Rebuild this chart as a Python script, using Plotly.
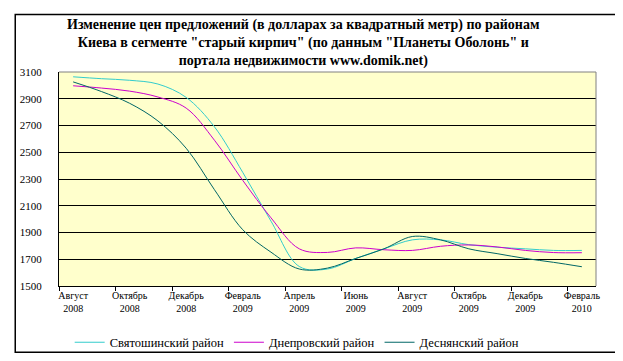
import plotly.graph_objects as go

months = ["Август<br>2008", "Сентябрь<br>2008", "Октябрь<br>2008", "Ноябрь<br>2008",
          "Декабрь<br>2008", "Январь<br>2009", "Февраль<br>2009", "Март<br>2009",
          "Апрель<br>2009", "Май<br>2009", "Июнь<br>2009", "Июль<br>2009",
          "Август<br>2009", "Сентябрь<br>2009", "Октябрь<br>2009", "Ноябрь<br>2009",
          "Декабрь<br>2009", "Январь<br>2010", "Февраль<br>2010"]

svyatoshinsky = [3064, 3050, 3038, 3010, 2910, 2690, 2350, 1985, 1646, 1627, 1706,
                 1778, 1845, 1845, 1809, 1790, 1778, 1766, 1766]
dneprovsky = [2997, 2980, 2957, 2913, 2830, 2590, 2290, 2010, 1778, 1751, 1785,
              1771, 1766, 1797, 1807, 1792, 1766, 1750, 1749]
desniansky = [3026, 2954, 2866, 2734, 2530, 2220, 1921, 1753, 1627, 1634, 1706,
              1778, 1870, 1845, 1778, 1742, 1706, 1677, 1644]

series = [
    ("Святошинский район", svyatoshinsky, "#33CCCC"),
    ("Днепровский район", dneprovsky, "#CC00CC"),
    ("Деснянский район", desniansky, "#006666"),
]

title = ("Изменение цен предложений (в долларах за квадратный метр) по районам<br>"
         "Киева в сегменте \"старый кирпич\" (по данным \"Планеты Оболонь\" и<br>"
         "портала недвижимости www.domik.net)")

x = list(range(len(months)))
label_idx = list(range(0, len(months), 2))

W, H = 623, 361
L, R, T, B = 48, 588, 64, 287

def px(xp):
    return (xp - L) / (R - L)

def py(yp):
    return (B - yp) / (B - T)

fig = go.Figure()
for name, vals, col in series:
    fig.add_trace(go.Scatter(x=x, y=vals, name=name, mode="lines",
                             line=dict(color=col, width=1, shape="spline", smoothing=1.0)))

serif = "Liberation Serif"

fig.update_layout(
    width=W, height=H,
    margin=dict(l=L, r=W - R, t=T, b=H - B, pad=0),
    paper_bgcolor="white",
    plot_bgcolor="#FFFFCC",
    font=dict(family=serif, color="black"),
    showlegend=True,
    legend=dict(orientation="h", x=px(287), xanchor="center", y=py(346), yanchor="middle",
                font=dict(family=serif, size=12.5, color="black"),
                bgcolor="rgba(0,0,0,0)", itemwidth=30, tracegroupgap=0),
    xaxis=dict(range=[-0.5, len(months) - 0.5], tickmode="array",
               tickvals=[x[i] for i in label_idx], ticktext=[months[i] for i in label_idx],
               ticks="", showgrid=False, zeroline=False,
               showline=True, linecolor="black", linewidth=1,
               tickfont=dict(family=serif, size=10, color="black"),
               minor=dict(tick0=1.5, dtick=2, ticks="outside", ticklen=4,
                          tickcolor="black", tickwidth=1, showgrid=False)),
    yaxis=dict(range=[1500, 3100], dtick=200, tick0=1500, showgrid=True,
               gridcolor="black", gridwidth=1, zeroline=False,
               showline=True, linecolor="black", linewidth=1, ticks="",
               tickfont=dict(family=serif, size=11, color="black"), ticklabelstandoff=14),
    shapes=[
        dict(type="line", xref="paper", yref="paper", x0=0, x1=1, y0=1, y1=1,
             line=dict(color="#808080", width=1)),
        dict(type="line", xref="paper", yref="paper", x0=1, x1=1, y0=0, y1=1,
             line=dict(color="#808080", width=1)),
        dict(type="rect", xref="paper", yref="paper", x0=px(4), x1=px(618), y0=py(356), y1=py(4),
             line=dict(color="black", width=1.5), fillcolor="rgba(0,0,0,0)"),
    ],
    annotations=[
        dict(text="<b>" + title + "</b>", xref="paper", yref="paper", x=px(294), y=py(34),
             xanchor="center", yanchor="middle", showarrow=False, align="center",
             font=dict(family=serif, size=14, color="black")),
    ],
)

fig.write_html("out.html")
